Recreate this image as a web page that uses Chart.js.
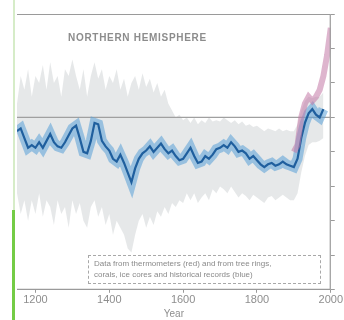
<!DOCTYPE html>
<html>
<head>
<meta charset="utf-8">
<script src="https://cdn.jsdelivr.net/npm/chart.js@4.4.1/dist/chart.umd.min.js"></script>
<style>
  body { margin: 0; background: #fff; }
  #wrap { position: relative; width: 344px; height: 320px; overflow: hidden; }
  #edgeTop { position: absolute; left: 13px; top: 0; width: 2px; height: 210px; background: #d6ecc8; }
  #edgeBottom { position: absolute; left: 12px; top: 210px; width: 3px; height: 110px; background: #74cc46; }
  #title { position: absolute; left: 68px; top: 32px; font: bold 10px "Liberation Sans", Arial, sans-serif;
           color: #8c8c8c; letter-spacing: 0.7px; }
  #note { position: absolute; left: 88px; top: 255px; width: 226px; height: 25px; border: 1px dashed #a8a8a8;
          font: 8px "Liberation Sans", Arial, sans-serif; color: #8a8a8a; line-height: 11px; padding: 2px 0 0 5px;
          box-sizing: content-box; background: rgba(255,255,255,0.7); }
</style>
</head>
<body>
<div id="wrap">
  <canvas id="chart" width="344" height="320"></canvas>
  <div id="edgeTop"></div>
  <div id="edgeBottom"></div>
  <div id="title">NORTHERN HEMISPHERE</div>
  <div id="note">Data from thermometers (red) and from tree rings,<br>corals, ice cores and historical records (blue)</div>
</div>
<script>
// years for the reconstruction, every 10 years
const years = [1150,1160,1170,1180,1190,1200,1210,1220,1230,1240,1250,1260,1270,1280,1290,
  1300,1310,1320,1330,1340,1350,1360,1370,1380,1390,1400,1410,1420,1430,1440,1450,1460,1470,1480,1490,
  1500,1510,1520,1530,1540,1550,1560,1570,1580,1590,1600,1610,1620,1630,1640,1650,1660,1670,1680,1690,
  1700,1710,1720,1730,1740,1750,1760,1770,1780,1790,1800,1810,1820,1830,1840,1850,1860,1870,1880,1890,
  1900,1910,1920,1930,1940,1950,1960,1970,1980];

// blue: proxy reconstruction (deg C anomaly)
const proxyTemp = [-0.10,-0.08,-0.15,-0.22,-0.20,-0.22,-0.18,-0.22,-0.17,-0.12,-0.18,-0.21,-0.22,-0.18,-0.13,
  -0.08,-0.06,-0.15,-0.25,-0.26,-0.17,-0.04,-0.05,-0.17,-0.21,-0.24,-0.30,-0.32,-0.27,-0.33,-0.40,-0.47,-0.37,-0.30,-0.26,
  -0.24,-0.21,-0.25,-0.22,-0.19,-0.23,-0.26,-0.24,-0.28,-0.31,-0.30,-0.26,-0.22,-0.28,-0.33,-0.32,-0.28,-0.30,-0.27,-0.23,
  -0.22,-0.20,-0.22,-0.18,-0.21,-0.25,-0.24,-0.26,-0.30,-0.28,-0.31,-0.34,-0.36,-0.34,-0.33,-0.35,-0.34,-0.32,-0.34,-0.35,
  -0.36,-0.30,-0.15,-0.04,0.03,0.06,0.02,0.00,0.06];

// grey: uncertainty range
const rangeHigh = [0.10,0.30,0.20,0.35,0.15,0.30,0.25,0.38,0.20,0.40,0.25,0.30,0.15,0.35,0.30,
  0.42,0.30,0.20,0.35,0.15,0.30,0.40,0.28,0.35,0.20,0.30,0.25,0.35,0.20,0.28,0.15,0.25,0.30,0.20,0.32,
  0.22,0.28,0.18,0.25,0.15,0.20,0.10,0.05,0.00,0.02,-0.02,0.00,-0.04,0.00,-0.05,-0.02,-0.04,0.00,-0.03,-0.02,
  -0.03,0.00,-0.02,-0.04,-0.02,-0.05,-0.03,-0.06,-0.05,-0.07,-0.06,-0.08,-0.10,-0.08,-0.09,-0.10,-0.08,-0.10,-0.09,-0.10,
  -0.10,-0.05,0.05,0.12,0.15,0.14,0.15,0.15,0.18];
const rangeLow = [-0.55,-0.70,-0.60,-0.75,-0.60,-0.70,-0.55,-0.72,-0.60,-0.65,-0.78,-0.60,-0.70,-0.65,-0.80,
  -0.60,-0.70,-0.62,-0.75,-0.80,-0.65,-0.60,-0.72,-0.65,-0.78,-0.70,-0.85,-0.75,-0.80,-0.85,-0.95,-0.98,-0.85,-0.75,-0.70,
  -0.80,-0.72,-0.78,-0.68,-0.72,-0.65,-0.70,-0.62,-0.65,-0.60,-0.62,-0.55,-0.60,-0.55,-0.62,-0.58,-0.55,-0.60,-0.52,-0.55,
  -0.50,-0.52,-0.55,-0.50,-0.54,-0.58,-0.55,-0.57,-0.60,-0.56,-0.58,-0.60,-0.62,-0.58,-0.57,-0.60,-0.58,-0.56,-0.58,-0.60,
  -0.60,-0.55,-0.40,-0.28,-0.20,-0.18,-0.18,-0.17,-0.15];

// red: thermometer record
const thermoYears = [1900,1910,1920,1930,1940,1950,1960,1970,1980,1990,2000];
const thermoTemp = [-0.25,-0.20,0.00,0.10,0.15,0.12,0.15,0.20,0.30,0.45,0.65];

const xTicks = [1200,1400,1600,1800,2000];

const pts = (xs, ys) => xs.map((x, i) => ({ x: x, y: ys[i] }));

const frame = {
  id: "frame",
  afterDatasetsDraw(chart) {
    const a = chart.chartArea, c = chart.ctx;
    c.save();
    c.strokeStyle = "#9a9a9a";
    c.lineWidth = 1.2;
    c.beginPath();
    c.moveTo(a.left, a.top + 0.5);
    c.lineTo(a.right - 0.5, a.top + 0.5);
    c.lineTo(a.right - 0.5, a.bottom - 0.5);
    c.lineTo(a.left, a.bottom - 0.5);
    c.stroke();
    c.restore();
  }
};

new Chart(document.getElementById("chart"), {
  type: "line",
  data: {
    datasets: [
      { data: pts(years, rangeHigh), order: 6, borderWidth: 0, pointRadius: 0, fill: "+1",
        backgroundColor: "rgba(205,210,212,0.5)", borderColor: "rgba(0,0,0,0)" },
      { data: pts(years, rangeLow), order: 7, borderWidth: 0, pointRadius: 0, fill: false,
        borderColor: "rgba(0,0,0,0)" },
      { data: pts([1150, 2000], [0, 0]), order: 5, borderColor: "#a0a0a0", borderWidth: 1.2, pointRadius: 0 },
      { data: pts(years, proxyTemp), order: 3, borderColor: "rgba(90,160,215,0.55)", borderWidth: 10, pointRadius: 0 },
      { data: pts(years, proxyTemp), order: 2, borderColor: "#1f5f9e", borderWidth: 2.2, pointRadius: 0 },
      { data: pts(thermoYears, thermoTemp), order: 1, borderColor: "rgba(195,120,165,0.55)", borderWidth: 6, pointRadius: 0 }
    ]
  },
  options: {
    responsive: false,
    animation: false,
    layout: { padding: { left: 17, top: 14, right: 6, bottom: 0 } },
    plugins: { legend: { display: false }, tooltip: { enabled: false } },
    scales: {
      x: {
        type: "linear", min: 1150, max: 2000,
        afterBuildTicks: (axis) => { axis.ticks = xTicks.map((v) => ({ value: v })); },
        grid: { drawOnChartArea: false, tickLength: 3, color: "#9a9a9a" },
        border: { display: false },
        ticks: { color: "#8e8e8e", font: { family: "Liberation Sans", size: 11 }, padding: 1, maxRotation: 0,
                 callback: (v) => String(v) },
        title: { display: true, text: "Year", color: "#8e8e8e", font: { family: "Liberation Sans", size: 10 }, padding: 0 }
      },
      y: { display: false, min: -1.25, max: 0.75 },
      y2: {
        position: "right", min: -1.25, max: 0.75,
        ticks: { display: false, stepSize: 0.25 },
        grid: { drawOnChartArea: false, tickLength: 4, color: "#9a9a9a" },
        border: { display: false }
      }
    }
  },
  plugins: [frame]
});
</script>
</body>
</html>
